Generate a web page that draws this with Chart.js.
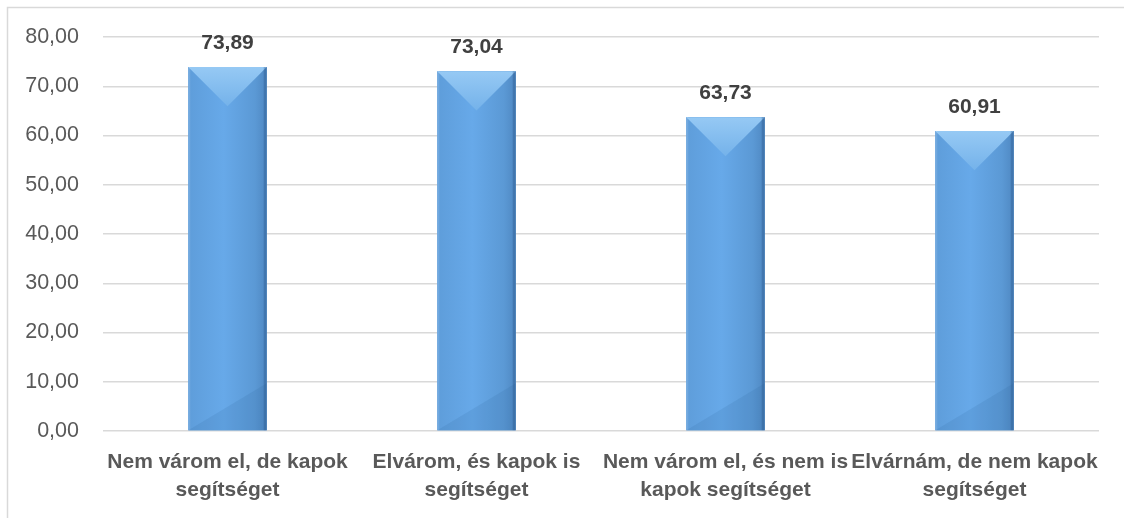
<!DOCTYPE html>
<html>
<head>
<meta charset="utf-8">
<script src="https://cdn.jsdelivr.net/npm/chart.js@4"></script>
<style>
  html, body { margin: 0; padding: 0; background: #ffffff; }
  #wrap { width: 1124px; height: 518px; position: relative; }
</style>
</head>
<body>
<div id="wrap"><canvas id="chart"></canvas></div>
<script>
// Category labels (two lines each) and values
const categories = [
  ['Nem várom el, de kapok', 'segítséget'],
  ['Elvárom, és kapok is', 'segítséget'],
  ['Nem várom el, és nem is', 'kapok segítséget'],
  ['Elvárnám, de nem kapok', 'segítséget']
];
const values = [73.89, 73.04, 63.73, 60.91];
const yTicks = [0, 10, 20, 30, 40, 50, 60, 70, 80];

const FONT = "'Liberation Sans', Arial, sans-serif";

// Hungarian number format: comma decimal
const fmt = v => v.toFixed(2).replace('.', ',');

// Light frame around the plot
const framePlugin = {
  id: 'frame',
  beforeDraw(chart) {
    const c = chart.ctx;
    c.save();
    c.strokeStyle = '#d9d9d9';
    c.lineWidth = 1.5;
    c.beginPath();
    c.moveTo(7.5, chart.height);
    c.lineTo(7.5, 7.5);
    c.lineTo(chart.width, 7.5);
    c.stroke();
    c.restore();
  }
};

// Bevelled look on top of each bar + value labels
const bevelPlugin = {
  id: 'bevel',
  afterDatasetsDraw(chart) {
    const c = chart.ctx;
    const meta = chart.getDatasetMeta(0);
    meta.data.forEach((bar, i) => {
      const w = bar.width;
      const l = bar.x - w / 2, r = bar.x + w / 2;
      const t = bar.y, b = bar.base;
      const h = b - t;
      const d = Math.min(w / 2, h / 2);
      c.save();

      // body shading left → right
      const g = c.createLinearGradient(l, 0, r, 0);
      g.addColorStop(0, '#5e9dda');
      g.addColorStop(0.45, '#67a9e9');
      g.addColorStop(0.85, '#5b99d5');
      g.addColorStop(1, '#4f88c2');
      c.fillStyle = g;
      c.fillRect(l, t, w, h);

      // top facet
      const gt = c.createLinearGradient(0, t, 0, t + d);
      gt.addColorStop(0, '#96c9f4');
      gt.addColorStop(1, '#74b2ea');
      c.fillStyle = gt;
      c.beginPath();
      c.moveTo(l, t);
      c.lineTo(r, t);
      c.lineTo(bar.x, t + d);
      c.closePath();
      c.fill();

      // bottom facet
      c.fillStyle = 'rgba(40, 90, 150, 0.13)';
      c.beginPath();
      c.moveTo(l, b);
      c.lineTo(r, b);
      c.lineTo(r, b - d * 1.2);
      c.closePath();
      c.fill();

      // edges
      c.fillStyle = 'rgba(30, 70, 120, 0.28)';
      c.fillRect(r - 3, t, 3, h);
      c.fillStyle = 'rgba(255, 255, 255, 0.12)';
      c.fillRect(l, t, 2, h);

      // value label
      c.fillStyle = '#404040';
      c.font = 'bold 21px ' + FONT;
      c.textAlign = 'center';
      c.textBaseline = 'middle';
      c.fillText(fmt(values[i]), bar.x, t - 24);
      c.restore();
    });
  }
};

new Chart(document.getElementById('chart'), {
  type: 'bar',
  data: {
    labels: categories,
    datasets: [{
      data: values,
      backgroundColor: '#5e9dda',
      borderWidth: 0,
      barPercentage: 0.63,
      categoryPercentage: 0.5
    }]
  },
  options: {
    responsive: true,
    maintainAspectRatio: false,
    animation: false,
    layout: { padding: { top: 37, right: 25, left: 0, bottom: 0 } },
    plugins: {
      legend: { display: false },
      tooltip: { enabled: false }
    },
    scales: {
      x: {
        grid: { display: false, drawTicks: false },
        border: { display: false },
        afterFit(scale) { scale.height = 87; },
        ticks: {
          color: '#595959',
          font: { family: FONT, size: 21, weight: 'bold', lineHeight: 1.33 },
          padding: 17,
          maxRotation: 0,
          autoSkip: false
        }
      },
      y: {
        min: 0,
        max: 80,
        afterFit(scale) { scale.width = 103; },
        afterBuildTicks(scale) { scale.ticks = yTicks.map(v => ({ value: v })); },
        grid: { color: '#d9d9d9', lineWidth: 1.5, drawTicks: false },
        border: { display: false },
        ticks: {
          color: '#595959',
          font: { family: FONT, size: 21.5 },
          padding: 24,
          callback: v => fmt(v)
        }
      }
    }
  },
  plugins: [framePlugin, bevelPlugin]
});
</script>
</body>
</html>
